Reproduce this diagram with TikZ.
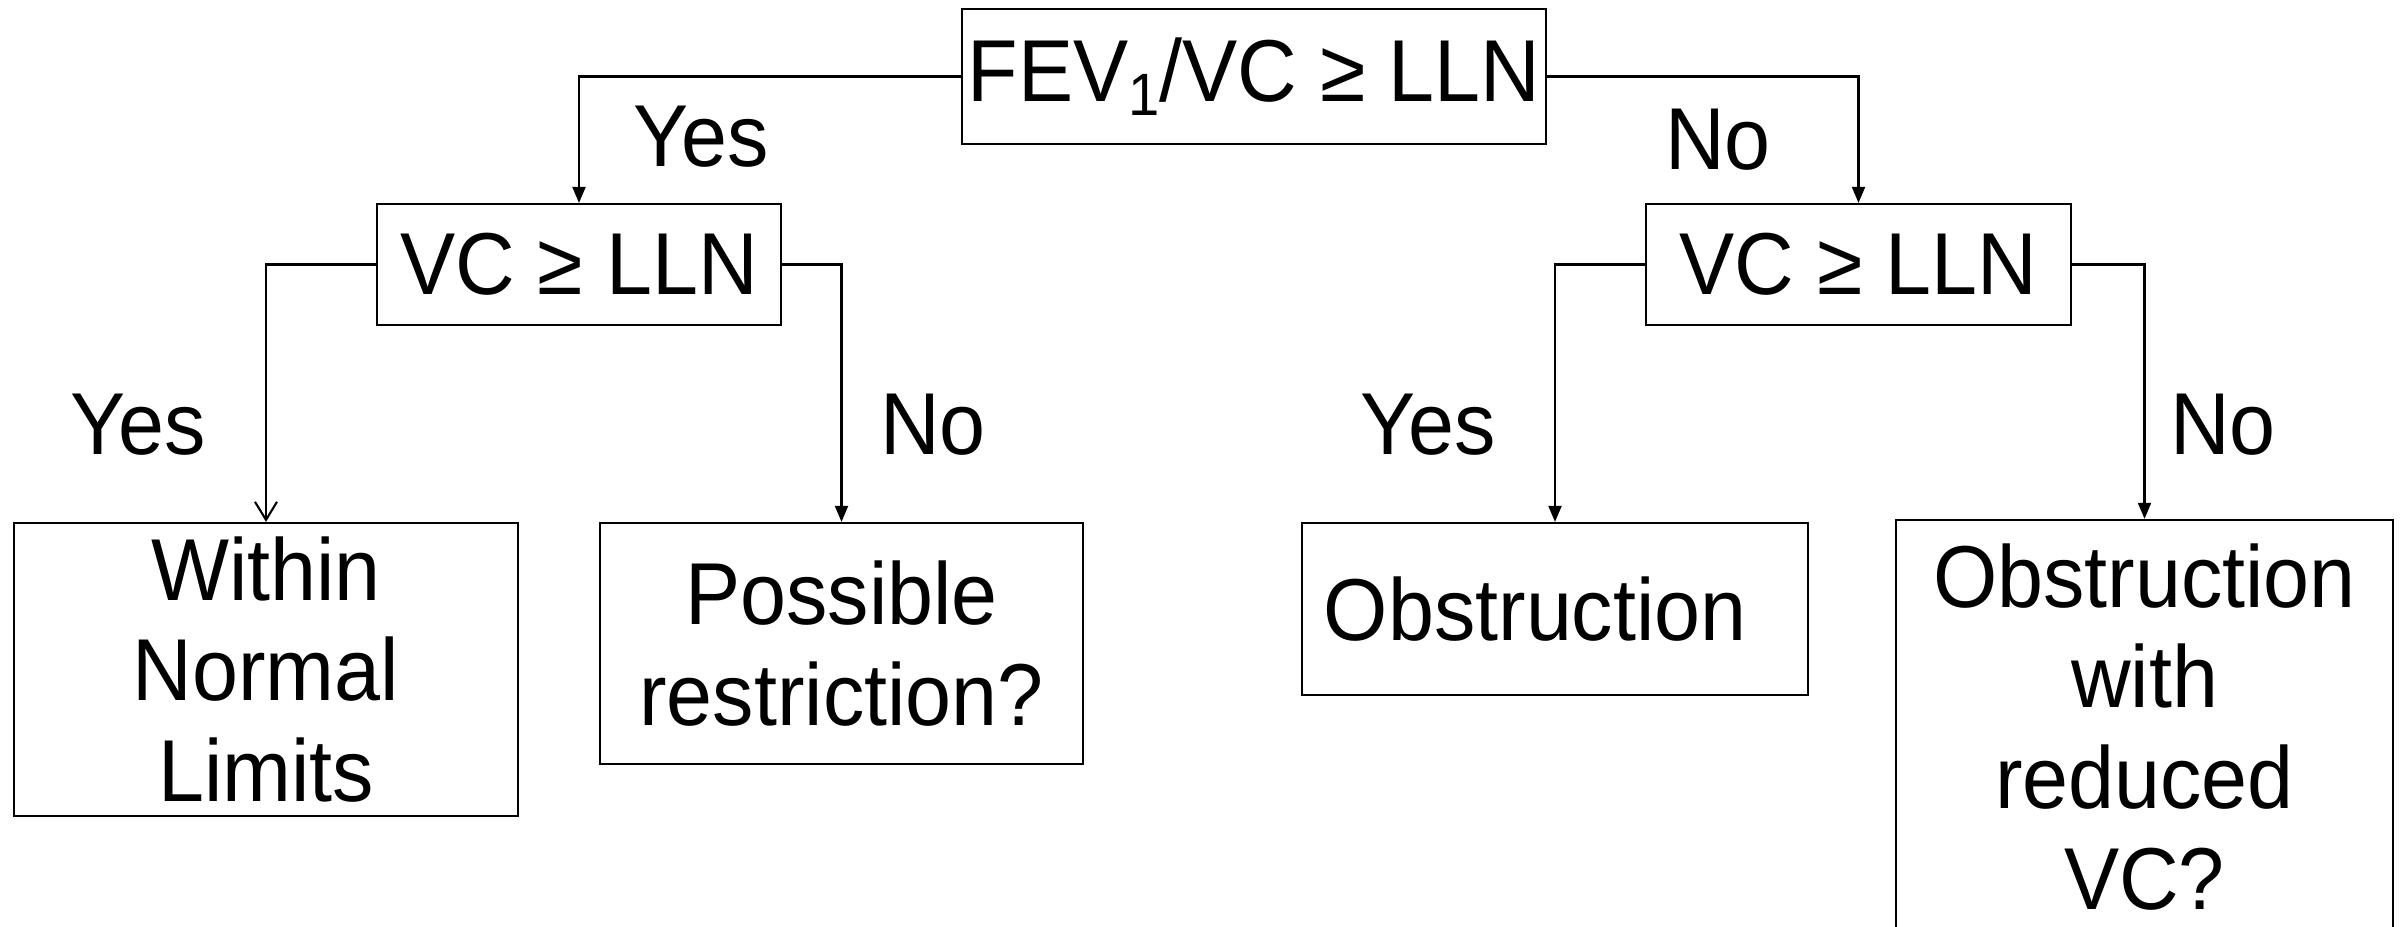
\documentclass[tikz,border=0pt]{standalone}
\usepackage{fontspec}
\setmainfont[FakeStretch=0.94]{Liberation Sans}
\usetikzlibrary{arrows.meta}
\newcommand{\lowone}{\raisebox{-0.3ex}{\fontsize{17}{17}\selectfont 1}}
\tikzset{
  box/.style={draw,line width=0.6pt,rectangle,inner sep=0pt,align=center,
    font=\fontsize{25}{28.7}\selectfont},
  lbl/.style={anchor=base,inner sep=0pt,font=\fontsize{25}{28.7}\selectfont},
}
\begin{document}
\begin{tikzpicture}[x=0.01cm,y=-0.01cm,line width=0.6pt]
      \useasboundingbox (0,0) rectangle (2405,927);
      \node[box,minimum width=5.84cm,minimum height=1.35cm] (top) at (1254,76.5) {FEV\lowone/VC ≥ LLN};
      \node[box,minimum width=4.04cm,minimum height=1.21cm] (lvc) at (579,264.5) {VC ≥ LLN};
      \node[box,minimum width=4.25cm,minimum height=1.21cm] (rvc) at (1858.5,264.5) {VC ≥ LLN};
      \node[box,minimum width=5.04cm,minimum height=2.93cm] (wnl) at (266,669.5) {Within\\Normal\\Limits};
      \node[box,minimum width=4.83cm,minimum height=2.41cm] (poss) at (841.5,643.5) {Possible\\restriction?};
      \node[box,minimum width=5.06cm,minimum height=1.72cm] (obs) at (1555,609) {Obstruction\hspace*{0.45em}};
      \node[box,minimum width=4.97cm,minimum height=4.14cm] (obsvc) at (2144.5,727) {Obstruction\\with\\reduced\\VC?};
      % branch labels
      \node[lbl] (y1) at (701,166) {Yes};
      \node[lbl] (n1) at (1718,169) {No};
      \node[lbl] (y2) at (138,454) {Yes};
      \node[lbl] (n2) at (933,454) {No};
      \node[lbl] (y3) at (1428,454) {Yes};
      \node[lbl] (n3) at (2223,454) {No};
      \begin{scope}[-{Triangle[length=0.16cm,width=0.13cm]}]
        \draw (top.west) -| (lvc.north);
        \draw (top.east) -| (rvc.north);
        \draw (lvc.east) -| (poss.north);
        \draw (rvc.west) -| (obs.north);
        \draw (rvc.east) -| (obsvc.north);
      \end{scope}
      \draw[-{Straight Barb[length=0.18cm,width=0.22cm]}] (lvc.west) -| (wnl.north);
    \end{tikzpicture}
\end{document}
